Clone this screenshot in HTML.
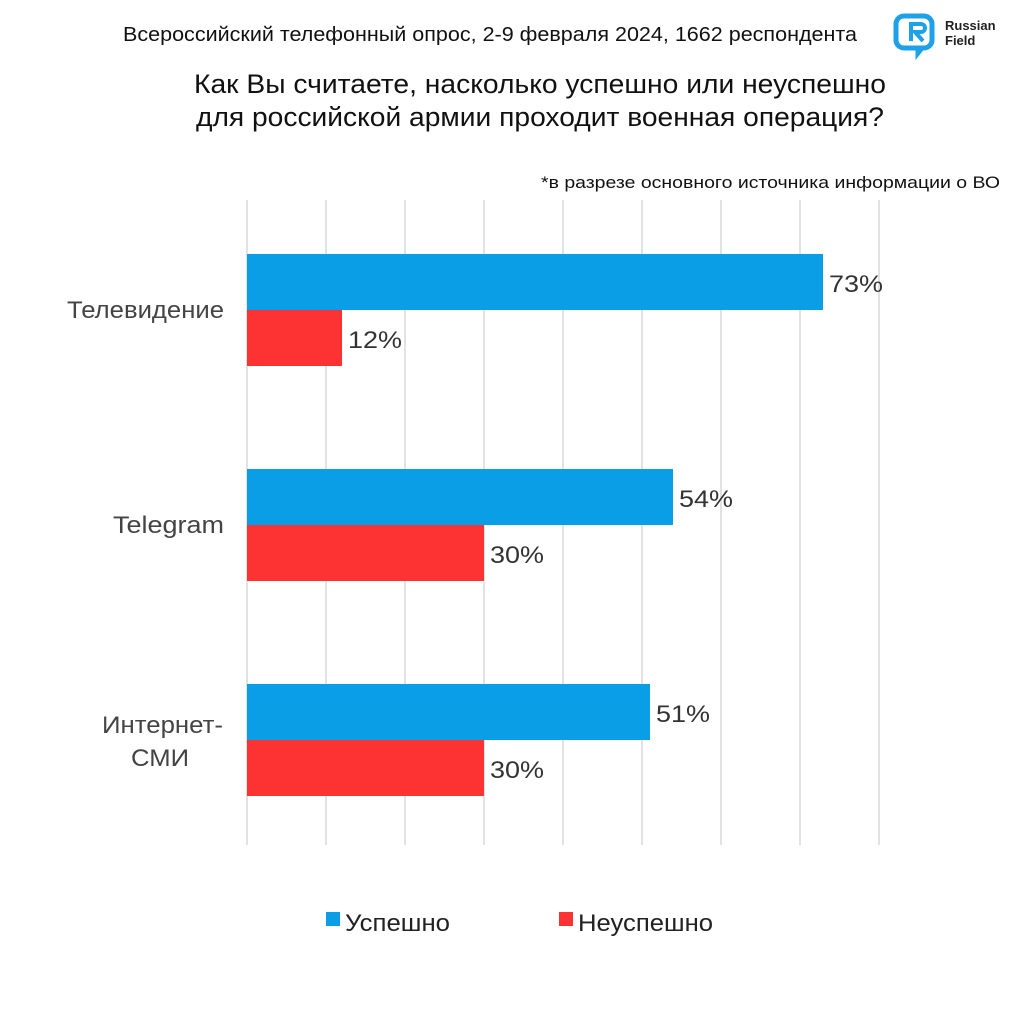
<!DOCTYPE html>
<html><head><meta charset="utf-8"><style>
html,body{margin:0;padding:0;background:#fff;}
svg{display:block;font-family:"Liberation Sans","DejaVu Sans",sans-serif;}
</style></head><body>
<svg width="1024" height="1024" viewBox="0 0 1024 1024" xmlns="http://www.w3.org/2000/svg">
<rect width="1024" height="1024" fill="#fff"/>
<text x="123" y="41" font-size="20" fill="#111" textLength="734" lengthAdjust="spacingAndGlyphs">Всероссийский телефонный опрос, 2-9 февраля 2024, 1662 респондента</text>
<g>
<path d="M904 16 h20 a8 8 0 0 1 8 8 v16 a8 8 0 0 1 -8 8 h-2 l-4 5 v-5 h-14 a8 8 0 0 1 -8 -8 v-16 a8 8 0 0 1 8 -8z" fill="none" stroke="#1da1e8" stroke-width="5"/>
<path d="M911 41 v-17 h10 a4 4 0 0 1 0 8 h-6 l8 9" fill="none" stroke="#1da1e8" stroke-width="4"/>
<text x="945" y="30" font-size="13" font-weight="bold" fill="#222">Russian</text>
<text x="945" y="45" font-size="13" font-weight="bold" fill="#222">Field</text>
</g>
<text x="194" y="93" font-size="27" fill="#111" textLength="692" lengthAdjust="spacingAndGlyphs">Как Вы считаете, насколько успешно или неуспешно</text>
<text x="196" y="126" font-size="27" fill="#111" textLength="688" lengthAdjust="spacingAndGlyphs">для российской армии проходит военная операция?</text>
<text x="541" y="188" font-size="17" fill="#111" textLength="459" lengthAdjust="spacingAndGlyphs">*в разрезе основного источника информации о ВО</text>
<g stroke="#e2e2e2" stroke-width="2">
<line x1="247" y1="200" x2="247" y2="845"/><line x1="326" y1="200" x2="326" y2="845"/>
<line x1="405" y1="200" x2="405" y2="845"/><line x1="484" y1="200" x2="484" y2="845"/>
<line x1="563" y1="200" x2="563" y2="845"/><line x1="642" y1="200" x2="642" y2="845"/>
<line x1="721" y1="200" x2="721" y2="845"/><line x1="800" y1="200" x2="800" y2="845"/>
<line x1="879" y1="200" x2="879" y2="845"/>
</g>
<g fill="#0a9ee6">
<rect x="247" y="254" width="576" height="56"/>
<rect x="247" y="469" width="426" height="56"/>
<rect x="247" y="684" width="403" height="56"/>
</g>
<g fill="#fd3333">
<rect x="247" y="310" width="95" height="56"/>
<rect x="247" y="525" width="237" height="56"/>
<rect x="247" y="740" width="237" height="56"/>
</g>
<g font-size="24" fill="#333">
<text x="829" y="292" textLength="54" lengthAdjust="spacingAndGlyphs">73%</text>
<text x="348" y="348" textLength="54" lengthAdjust="spacingAndGlyphs">12%</text>
<text x="679" y="507" textLength="54" lengthAdjust="spacingAndGlyphs">54%</text>
<text x="490" y="563" textLength="54" lengthAdjust="spacingAndGlyphs">30%</text>
<text x="656" y="722" textLength="54" lengthAdjust="spacingAndGlyphs">51%</text>
<text x="490" y="778" textLength="54" lengthAdjust="spacingAndGlyphs">30%</text>
</g>
<g font-size="24" fill="#444">
<text x="67" y="318" textLength="157" lengthAdjust="spacingAndGlyphs">Телевидение</text>
<text x="113" y="533" textLength="111" lengthAdjust="spacingAndGlyphs">Telegram</text>
<text x="102" y="733" textLength="121" lengthAdjust="spacingAndGlyphs">Интернет-</text>
<text x="131" y="766" textLength="58" lengthAdjust="spacingAndGlyphs">СМИ</text>
</g>
<rect x="326" y="912" width="14" height="14" fill="#0a9ee6"/>
<text x="345" y="931" font-size="24" fill="#222" textLength="105" lengthAdjust="spacingAndGlyphs">Успешно</text>
<rect x="559" y="912" width="14" height="14" fill="#fd3333"/>
<text x="578" y="931" font-size="24" fill="#222" textLength="135" lengthAdjust="spacingAndGlyphs">Неуспешно</text>
</svg>
</body></html>
